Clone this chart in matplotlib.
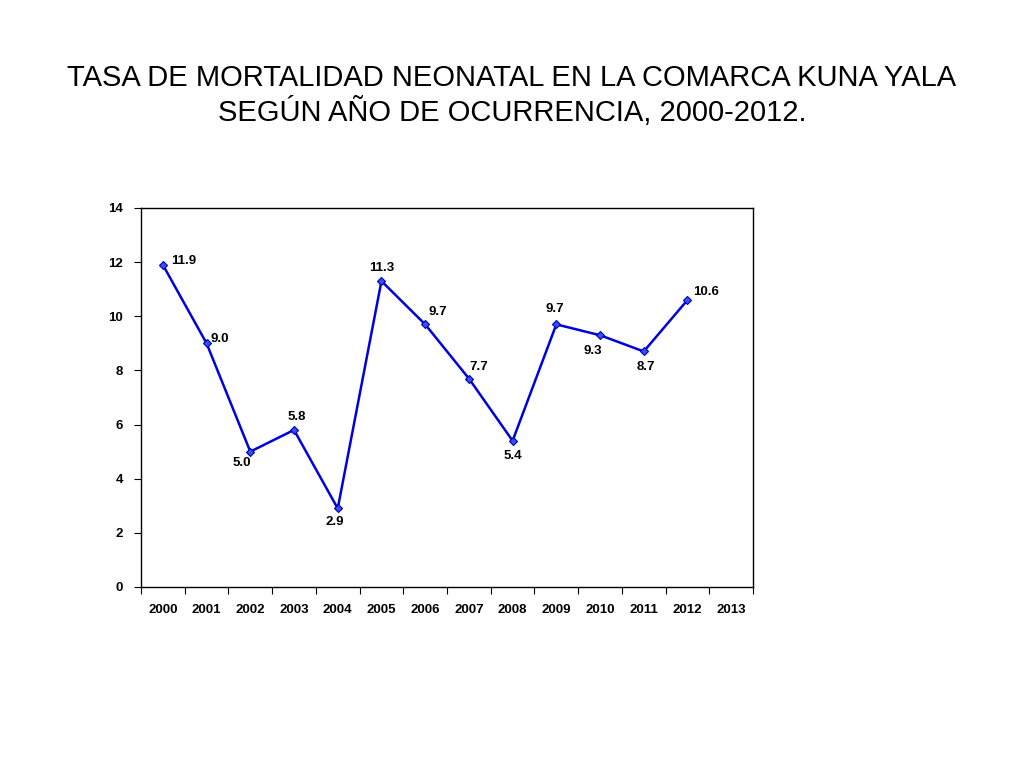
import matplotlib
matplotlib.use("Agg")
import matplotlib.pyplot as plt

plt.rcParams["font.family"] = ["Liberation Sans", "DejaVu Sans"]

# datos
years = ["2000", "2001", "2002", "2003", "2004", "2005", "2006",
         "2007", "2008", "2009", "2010", "2011", "2012", "2013"]
rates = [11.9, 9.0, 5.0, 5.8, 2.9, 11.3, 9.7, 7.7, 5.4, 9.7, 9.3, 8.7, 10.6]
# desplazamiento de etiquetas (px)
label_dx = [21, 13, -9, 3, -3, 0, 13, 10, 0, -2, -7, 2, 19]
label_dy = [4, 4, -11, 13, -14, 13, 12, 12, -15, 15, -16, -16, 8]

fig = plt.figure(figsize=(10.24, 7.68), dpi=100)
ax = fig.add_axes([0.1377, 0.2357, 0.5977, 0.4935])

x = list(range(len(rates)))
ax.plot(x, rates, color="#0000E0", lw=1.8, marker="D", ms=4.5,
        mfc="#3050FF", mec="#0000A0", mew=0.8)

for i, v in enumerate(rates):
    ax.annotate(f"{v:.1f}", (i, v),
                xytext=(label_dx[i] * 0.72, label_dy[i] * 0.72),
                textcoords="offset points", ha="center", va="center",
                fontsize=9.5, fontweight="bold")

ax.set_xlim(-0.5, len(years) - 0.5)
ax.set_ylim(0, 14)
ax.set_yticks(range(0, 15, 2))
ax.set_xticks([i + 0.5 for i in range(-1, len(years))], minor=False)
ax.set_xticklabels([])
ax.set_xticks(range(len(years)), minor=True)
ax.set_xticklabels(years, minor=True)
ax.tick_params(axis="x", which="minor", length=0, pad=12, labelsize=9.5)
ax.tick_params(axis="x", which="major", length=5, direction="out")
ax.tick_params(axis="y", length=5, direction="out", labelsize=9.5, pad=8)
for lbl in ax.get_xticklabels(minor=True) + ax.get_yticklabels():
    lbl.set_fontweight("bold")
for s in ax.spines.values():
    s.set_linewidth(1.0)

fig.text(0.5, 0.898, "TASA DE MORTALIDAD NEONATAL EN LA COMARCA KUNA YALA",
         ha="center", va="center", fontsize=21)
fig.text(0.5, 0.854, "SEGÚN AÑO DE OCURRENCIA, 2000-2012.",
         ha="center", va="center", fontsize=21)

fig.savefig("out.png", dpi=100)
